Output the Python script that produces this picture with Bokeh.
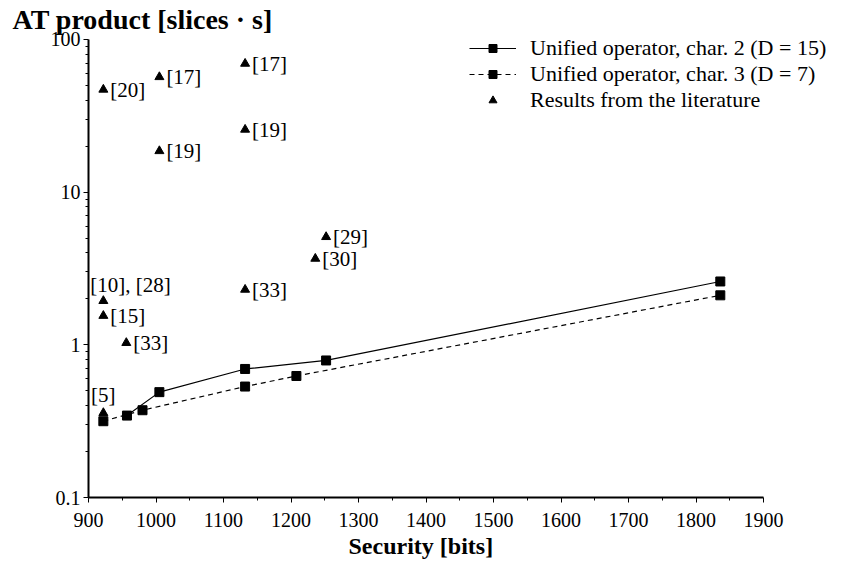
from bokeh.plotting import figure
from bokeh.models import (ColumnDataSource, FixedTicker, Legend, LegendItem,
                          Range1d, Title)
from bokeh.embed import file_html
from bokeh.resources import INLINE
from bokeh.core.properties import value

# ---- data ----
char2_x = [957, 1005, 1132, 1252, 1836]
char2_y = [0.344, 0.49, 0.695, 0.79, 2.60]
char3_x = [922, 980, 1132, 1208, 1836]
char3_y = [0.316, 0.373, 0.533, 0.625, 2.11]

lit_x = [922, 1005, 1132, 1132, 1005, 1252, 1236, 1132, 922, 922, 956, 922]
lit_y = [47.0, 56.8, 69.5, 25.7, 18.6, 5.09, 3.67, 2.30, 1.94, 1.55, 1.03, 0.358]
lit_ref = ["[20]", "[17]", "[17]", "[19]", "[19]", "[29]", "[30]", "[33]",
           "[10], [28]", "[15]", "[33]", "[5]"]

x_ticks = [900, 1000, 1100, 1200, 1300, 1400, 1500, 1600, 1700, 1800, 1900]
y_ticks = [0.1, 1, 10, 100]
y_tick_labels = {0.1: "0.1", 1: "1", 10: "10", 100: "100"}

FONT = "Liberation Serif"

# ---- layout geometry ----
W, H = 850, 573
B_LEFT, B_RIGHT, B_TOP, B_BOTTOM = 88, 2, 34, 76
AXIS_PX = 675.0        # pixel length of the 900..1900 axis
DECADE_PX = 152.7      # pixel height of one decade on the y axis
AXIS_TOP = 39          # pixel row of the y axis end (value 100)
frame_w = W - B_LEFT - B_RIGHT
x_end = x_ticks[0] + (x_ticks[-1] - x_ticks[0]) * frame_w / AXIS_PX
y_end = y_ticks[-1] * 10 ** ((AXIS_TOP - B_TOP) / DECADE_PX)

p = figure(width=W, height=H, output_backend="svg", toolbar_location=None,
           y_axis_type="log", x_range=Range1d(x_ticks[0], x_end),
           y_range=Range1d(y_ticks[0], y_end),
           min_border_left=B_LEFT, min_border_right=B_RIGHT,
           min_border_top=B_TOP, min_border_bottom=B_BOTTOM)
p.outline_line_color = None
p.grid.visible = False
p.background_fill_color = "white"

# axes
p.xaxis.ticker = FixedTicker(ticks=x_ticks,
                             minor_ticks=[x + 50 for x in x_ticks[:-1]])
p.xaxis.bounds = (x_ticks[0], x_ticks[-1])
minor_y = []
for d in y_ticks[:-1]:
    minor_y += [d * k for k in range(2, 10)]
p.yaxis.ticker = FixedTicker(ticks=y_ticks, minor_ticks=minor_y)
p.yaxis.bounds = (y_ticks[0], y_ticks[-1])
p.yaxis.major_label_overrides = {t: y_tick_labels[t] for t in y_ticks}
for ax in (p.xaxis[0], p.yaxis[0]):
    ax.axis_line_width = 2
    ax.axis_line_color = "black"
    ax.major_tick_line_color = "black"
    ax.minor_tick_line_color = "black"
    ax.major_tick_in = 0
    ax.major_tick_out = 5
    ax.minor_tick_in = 0
    ax.minor_tick_out = 3
    ax.major_label_text_font = FONT
    ax.major_label_text_font_size = "20px"
    ax.major_label_text_color = "black"
p.xaxis.major_label_standoff = 10
p.yaxis.major_label_standoff = 3

# y "title" at top-left
p.add_layout(Title(text="AT product [slices · s]", align="left", offset=-76,
                   text_font=FONT, text_font_style="bold", text_font_size="28px",
                   text_color="black", standoff=0), "above")

# x-axis title, centred under the 900..1900 axis
p.add_layout(Title(text="Security [bits]", align="left", offset=260,
                   text_font=FONT, text_font_style="bold", text_font_size="24px",
                   text_color="black", standoff=2), "below")

# series
src2 = ColumnDataSource(dict(x=char2_x, y=char2_y))
src3 = ColumnDataSource(dict(x=char3_x, y=char3_y))
l2 = p.line("x", "y", source=src2, line_color="black", line_width=1.2)
m2 = p.scatter("x", "y", source=src2, marker="square", size=9, color="black")
l3 = p.line("x", "y", source=src3, line_color="black", line_width=1.2, line_dash="5 4")
m3 = p.scatter("x", "y", source=src3, marker="square", size=9, color="black")

lit = ColumnDataSource(dict(x=lit_x, y=lit_y, ref=lit_ref))
tri = p.scatter("x", "y", source=lit, marker="triangle", size=9, color="black")

# labels: most to the right, two above
above = ("[10], [28]", "[5]")
right_idx = [i for i, r in enumerate(lit_ref) if r not in above]
src_right = ColumnDataSource(dict(x=[lit_x[i] for i in right_idx],
                                  y=[lit_y[i] for i in right_idx],
                                  ref=[lit_ref[i] for i in right_idx]))
p.text("x", "y", text="ref", source=src_right, x_offset=7, y_offset=0,
       text_font=value(FONT), text_font_size="21px", text_baseline="middle",
       text_align="left", text_color="black")
i10 = lit_ref.index("[10], [28]")
p.text(x=[lit_x[i10]], y=[lit_y[i10]], text=[lit_ref[i10]], x_offset=-13, y_offset=-4,
       text_font=value(FONT), text_font_size="21px", text_baseline="bottom",
       text_align="left", text_color="black")
i5 = lit_ref.index("[5]")
p.text(x=[lit_x[i5]], y=[lit_y[i5]], text=[lit_ref[i5]], x_offset=0, y_offset=-6,
       text_font=value(FONT), text_font_size="21px", text_baseline="bottom",
       text_align="center", text_color="black")

legend = Legend(items=[
    LegendItem(label="Unified operator, char. 2 (D = 15)", renderers=[l2, m2]),
    LegendItem(label="Unified operator, char. 3 (D = 7)", renderers=[l3, m3]),
    LegendItem(label="Results from the literature", renderers=[tri]),
], location=(381, 384))
legend.border_line_color = None
legend.background_fill_alpha = 0
legend.label_text_font = FONT
legend.label_text_font_size = "22px"
legend.label_text_color = "black"
legend.glyph_width = 47
legend.glyph_height = 20
legend.label_height = 20
legend.label_standoff = 14
legend.spacing = 0
legend.padding = 0
legend.margin = 0
p.add_layout(legend, "center")

open("out.html", "w").write(file_html(p, INLINE))
